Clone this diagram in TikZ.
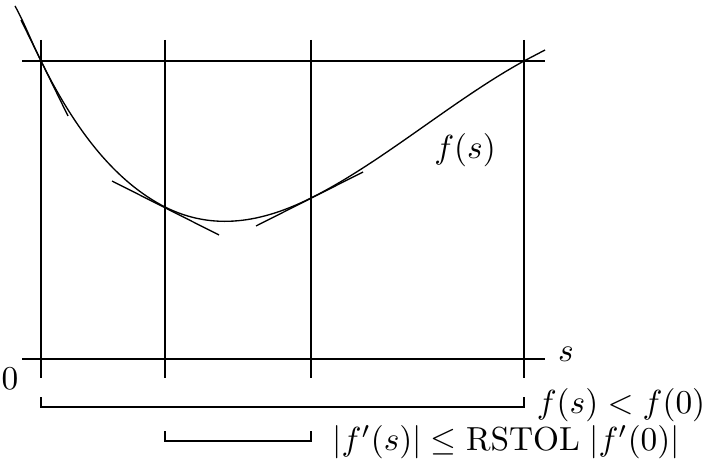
\documentclass[tikz,border=0pt]{standalone}
\begin{document}
\begin{tikzpicture}[x=0.30pt,y=-0.30pt,
  thinline/.style={line width=0.4pt},
  lbl/.style={inner sep=0pt}]
\useasboundingbox (0,0) rectangle (703,463);
% named coordinates
\coordinate (v0t) at (41,40);  \coordinate (v0b) at (41,378);
\coordinate (v1t) at (165,40); \coordinate (v1b) at (165,378);
\coordinate (v2t) at (311,40); \coordinate (v2b) at (311,378);
\coordinate (v3t) at (524,40); \coordinate (v3b) at (524,378);
\coordinate (hl) at (22,61);   \coordinate (hr) at (545,61);
\coordinate (al) at (22,359);  \coordinate (ar) at (545,359);
% grid lines
\draw[thinline] (hl) -- (hr);
\draw[thinline] (al) -- (ar);
\draw[thinline] (v0t) -- (v0b);
\draw[thinline] (v1t) -- (v1b);
\draw[thinline] (v2t) -- (v2b);
\draw[thinline] (v3t) -- (v3b);
% curve
\draw[thinline] (15,6) .. controls (24,22) and (32,43) .. (41,61)
  .. controls (82,144) and (124,186) .. (165,207)
  .. controls (213.7,231.3) and (262.3,222.3) .. (311,198)
  .. controls (382,162.5) and (453,100) .. (524,61)
  -- (545,50);
% tangents
\draw[thinline] (21,20) -- (68,116);
\draw[thinline] (112,181) -- (219,235);
\draw[thinline] (256,226) -- (363,172);
% labels
\node[lbl] (zero) at (10,379) {$0$};
\node[lbl] (slab) at (566,354) {$s$};
\node[lbl] (flab) at (465,150) {$f(s)$};
% brackets
\coordinate (b1a) at (41,397); \coordinate (b1b) at (524,397);
\draw[thinline] (b1a) -- ++(0,10) -| (b1b);
\node[lbl] (c1) at (621,405) {$f(s)<f(0)$};
\coordinate (b2a) at (165,431); \coordinate (b2b) at (311,431);
\draw[thinline] (b2a) -- ++(0,10) -| (b2b);
\node[lbl] (c2) at (506,442) {$|f'(s)|\le \mathrm{RSTOL}\;|f'(0)|$};
\end{tikzpicture}
\end{document}
